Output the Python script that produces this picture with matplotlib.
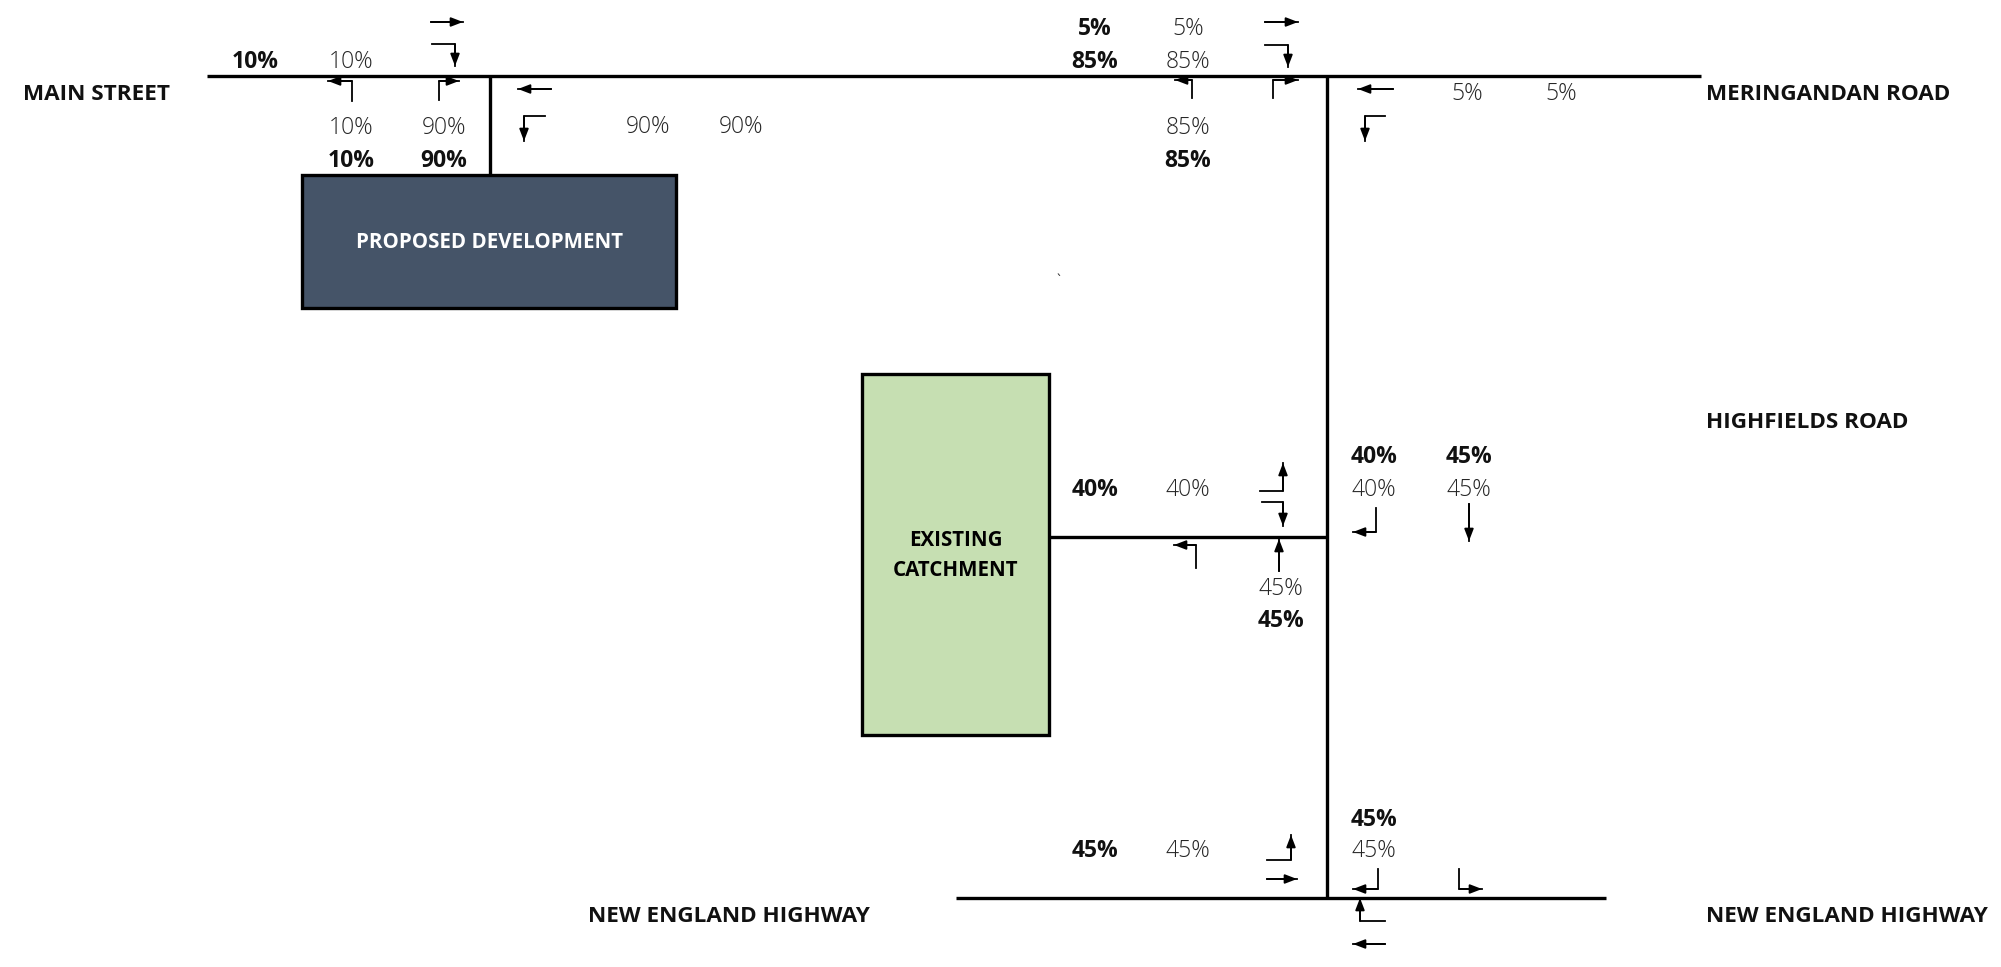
import matplotlib
matplotlib.use("Agg")
import matplotlib.pyplot as plt
from matplotlib.patches import Rectangle

plt.rcParams['font.family'] = ['Open Sans', 'DejaVu Sans']

# ============================================================
# DIAGRAM DATA (pixel space of the 2001 x 967 canvas)
# ============================================================
road_names = ["MAIN STREET", "MERINGANDAN ROAD", "HIGHFIELDS ROAD",
              "NEW ENGLAND HIGHWAY", "NEW ENGLAND HIGHWAY"]
road_name_xy = [(23, 91), (1706, 91), (1706, 420), (870, 914), (1706, 914)]
road_name_ha = ["left", "left", "left", "right", "left"]

# bold percentages
bold_pct = ["10%", "10%", "90%", "5%", "85%", "85%",
            "40%", "45%", "40%", "45%", "45%", "45%"]
bold_xy = [(255, 59), (351, 158), (444, 158), (1095, 26), (1095, 59), (1188, 158),
           (1095, 487), (1281, 618), (1374, 454), (1469, 454), (1095, 848), (1374, 817)]

# regular percentages
reg_pct = ["10%", "10%", "90%", "90%", "90%", "5%", "85%", "85%", "5%", "5%",
           "40%", "45%", "40%", "45%", "45%", "45%"]
reg_xy = [(351, 59), (351, 125), (444, 125), (648, 124), (741, 124),
          (1188, 26), (1188, 59), (1188, 125), (1467, 91), (1561, 91),
          (1188, 487), (1281, 586), (1374, 487), (1469, 487), (1188, 848), (1374, 848)]

# road centre lines
roads = [
    [(207, 76), (1701, 76)],
    [(490, 76), (490, 175)],
    [(1327, 76), (1327, 898)],
    [(1049, 537), (1327, 537)],
    [(956, 898), (1606, 898)],
]

# turning movement arrows (head on last point)
arrows = [
    # main street access
    [(431, 22), (463, 22)],
    [(432, 44), (455, 44), (455, 66)],
    [(352, 101), (352, 81), (328, 81)],
    [(439, 100), (439, 81), (459, 81)],
    [(551, 89), (518, 89)],
    [(545, 116), (524, 116), (524, 141)],
    # meringandan road
    [(1265, 22), (1298, 22)],
    [(1265, 45), (1288, 45), (1288, 67)],
    [(1192, 98), (1192, 80), (1175, 80)],
    [(1273, 98), (1273, 80), (1298, 80)],
    [(1393, 89), (1358, 89)],
    [(1385, 116), (1365, 116), (1365, 141)],
    # highfields road
    [(1260, 491), (1283, 491), (1283, 463)],
    [(1262, 502), (1283, 502), (1283, 526)],
    [(1196, 568), (1196, 545), (1174, 545)],
    [(1279, 571), (1279, 539)],
    [(1376, 508), (1376, 532), (1353, 532)],
    [(1469, 504), (1469, 541)],
    # new england highway
    [(1267, 860), (1291, 860), (1291, 835)],
    [(1267, 879), (1297, 879)],
    [(1378, 869), (1378, 889), (1353, 889)],
    [(1459, 869), (1459, 889), (1482, 889)],
    [(1385, 921), (1360, 921), (1360, 898)],
    [(1385, 944), (1353, 944)],
]

# sites
sites = ["PROPOSED DEVELOPMENT", "EXISTING\nCATCHMENT"]
site_box = [(302, 175, 374, 133), (862, 374, 187, 361)]
site_color = ["#455468", "#c6dfb2"]
site_text_color = ["white", "black"]

# ============================================================
# FIGURE
# ============================================================
fig = plt.figure(figsize=(20.01, 9.67), dpi=100)
ax = fig.add_axes([0, 0, 1, 1])
ax.set_xlim(0, 2001)
ax.set_ylim(967, 0)
ax.axis("off")

dy = 3  # text baseline nudge

for road in roads:
    xs, ys = zip(*road)
    ax.plot(xs, ys, color="black", linewidth=2.4, solid_capstyle="butt", zorder=2)

for name, (x, y, w, h), fc, tc in zip(sites, site_box, site_color, site_text_color):
    ax.add_patch(Rectangle((x, y), w, h, facecolor=fc, edgecolor="black",
                           linewidth=2.4, zorder=3))
    ax.text(x + w / 2, y + h / 2 + 1, name, ha="center", va="center", color=tc,
            fontsize=14.8, fontweight="bold", linespacing=1.55, zorder=4)

for pts in arrows:
    xs, ys = zip(*pts)
    ax.plot(xs, ys, color="black", linewidth=1.3, zorder=5)
    ax.annotate("", xy=pts[-1], xytext=pts[-2],
                arrowprops=dict(arrowstyle="-|>,head_length=0.65,head_width=0.25",
                                color="black", lw=1.3, shrinkA=0, shrinkB=0,
                                mutation_scale=11), zorder=6)

for name, (x, y), ha in zip(road_names, road_name_xy, road_name_ha):
    ax.text(x, y + dy, name, ha=ha, va="center", fontsize=16.2, fontweight="bold",
            color="#111111")

for s, (x, y) in zip(bold_pct, bold_xy):
    ax.text(x, y + dy, s, ha="center", va="center", fontsize=16.5, fontweight="bold",
            color="#111111")

for s, (x, y) in zip(reg_pct, reg_xy):
    ax.text(x, y + dy, s, ha="center", va="center", fontsize=16.5, fontweight="light",
            color="#262626")

# stray tick mark in the original drawing
ax.text(1058, 281, "`", ha="center", va="center", fontsize=10, color="#333333")

fig.savefig("out.png", dpi=100)
